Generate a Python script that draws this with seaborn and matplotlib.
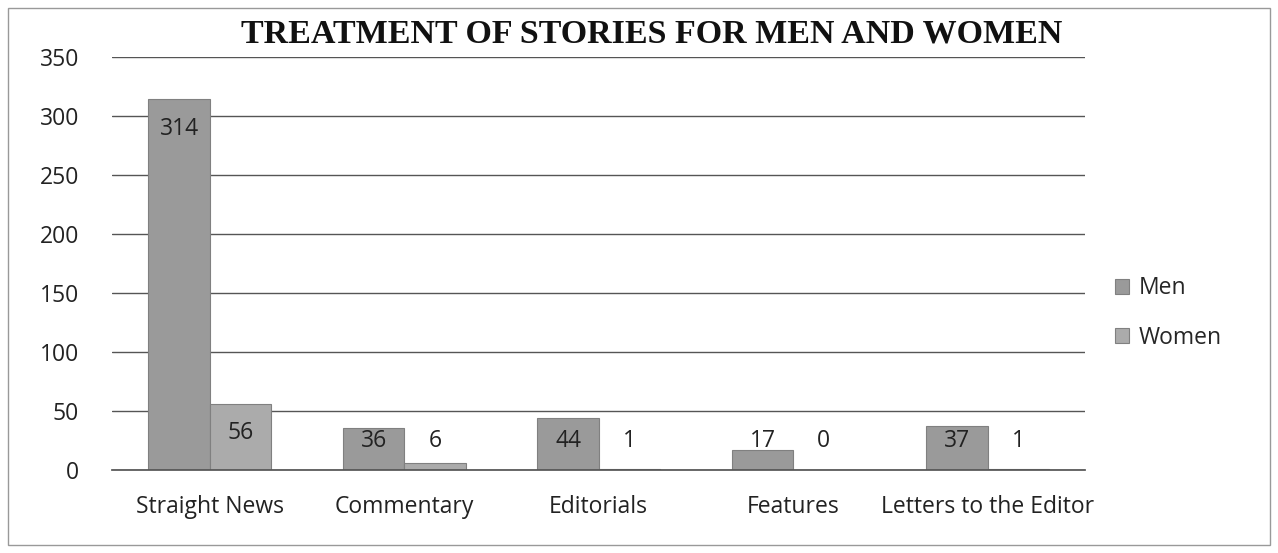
import matplotlib
matplotlib.use("Agg")
import matplotlib.pyplot as plt
import seaborn as sns
import pandas as pd
from matplotlib.patches import Rectangle

categories = ["Straight News", "Commentary", "Editorials", "Features", "Letters to the Editor"]
men = [314, 36, 44, 17, 37]
women = [56, 6, 1, 0, 1]
series = ["Men", "Women"]
yticks = [0, 50, 100, 150, 200, 250, 300, 350]
title = "TREATMENT OF STORIES FOR MEN AND WOMEN"

df = pd.DataFrame({
    "category": categories * 2,
    "value": men + women,
    "series": ["Men"] * len(categories) + ["Women"] * len(categories),
})

sns.set_theme(style="white")
plt.rcParams["font.family"] = ["Open Sans", "DejaVu Sans"]

fig = plt.figure(figsize=(12.78, 5.53), dpi=100)
ax = fig.add_axes([0.088, 0.150, 0.761, 0.747])

palette = {"Men": "#9a9a9a", "Women": "#ababab"}
sns.barplot(data=df, x="category", y="value", hue="series", order=categories,
            hue_order=series, palette=palette, width=0.63, ax=ax,
            edgecolor="#808080", linewidth=0.8, saturation=1, legend=True)

ax.set_ylim(0, 350)
ax.set_yticks(yticks)
ax.set_xlim(-0.5, len(categories) - 0.5)
ax.yaxis.grid(True, color="#555555", linewidth=1.0)
ax.set_axisbelow(True)
for s in ["top", "right", "left"]:
    ax.spines[s].set_visible(False)
ax.spines["bottom"].set_color("#555555")
ax.set_xlabel("")
ax.set_ylabel("")
ax.tick_params(axis="both", labelsize=16.5, colors="#222222", length=0)
ax.tick_params(axis="y", pad=24)
ax.tick_params(axis="x", pad=18)

# data labels
for container, vals in zip(ax.containers, [men, women]):
    for bar, v in zip(container, vals):
        x = bar.get_x() + bar.get_width() / 2
        y = max(v - 25, 25)
        ax.text(x, y, str(v), ha="center", va="center", fontsize=16.5, color="#222222")

leg = ax.legend(loc="center left", bbox_to_anchor=(1.01, 0.38), frameon=False,
                fontsize=16.5, handlelength=0.6, handleheight=0.6, handletextpad=0.4,
                labelspacing=1.1)

fig.text(0.51, 0.938, title, ha="center", va="center", fontsize=24.5,
         fontweight="bold", family=["Liberation Serif"], color="#111111")

fig.patches.append(Rectangle((0.006, 0.014), 0.988, 0.972, transform=fig.transFigure,
                             fill=False, edgecolor="#999999", linewidth=1.0))

fig.savefig("out.png", dpi=100)
